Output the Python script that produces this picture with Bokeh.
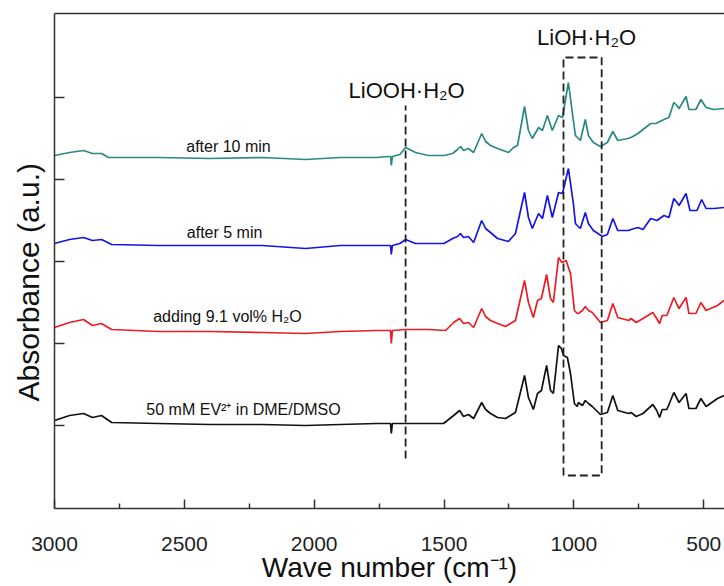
from bokeh.plotting import figure
from bokeh.models import Range1d, FixedTicker, LinearAxis, Title
from bokeh.core.properties import value
from bokeh.embed import file_html
from bokeh.resources import INLINE

# ---------------- data ----------------
wn_teal = [3000, 2942, 2888, 2854, 2819, 2792, 2600, 2400, 2200, 2033, 1900, 1760, 1714, 1706, 1703, 1699,
           1670, 1648, 1610, 1560, 1500, 1467, 1448, 1436, 1425, 1406, 1386, 1355, 1340, 1321, 1294, 1252,
           1232, 1217, 1190, 1175, 1160, 1136, 1121, 1102, 1083, 1059, 1044, 1021, 1002, 994, 975, 956, 944,
           925, 898, 871, 850, 831, 792, 780, 753, 734, 704, 684, 653, 634, 615, 603, 595, 568, 557, 530, 511,
           491, 460, 422]
ab_teal = [352, 355, 357, 354, 354, 350, 350, 349, 350, 348, 350, 350, 351, 351, 342, 351,
           353, 360, 355, 352, 352, 354, 358, 361, 357, 359, 355, 374, 366, 362, 359, 355,
           360, 362, 401, 377, 369, 380, 377, 392, 377, 392, 390, 425, 387, 372, 367, 388, 372,
           365, 361, 365, 376, 367, 369, 370, 374, 378, 384, 384, 388, 390, 405, 402, 399, 411, 398, 398, 408,
           400, 398, 399]

wn_blue = [3000, 2942, 2888, 2854, 2819, 2780, 2600, 2400, 2200, 2033, 1900, 1760, 1714, 1706, 1703, 1699,
           1670, 1648, 1610, 1560, 1500, 1467, 1448, 1437, 1425, 1406, 1386, 1355, 1340, 1321, 1294, 1252,
           1225, 1190, 1175, 1160, 1136, 1121, 1102, 1083, 1059, 1044, 1021, 1002, 994, 987, 975, 956, 944,
           925, 890, 871, 850, 831, 789, 780, 753, 734, 704, 680, 653, 634, 615, 603, 595, 568, 553, 526, 508,
           491, 460, 422]
ab_blue = [264, 268, 270, 267, 268, 263, 262, 262, 262, 259, 262, 262, 262, 262, 253, 262,
           264, 268, 264, 264, 264, 269, 271, 274, 270, 271, 265, 287, 279, 275, 269, 266,
           274, 315, 290, 279, 294, 289, 312, 290, 315, 314, 339, 304, 284, 282, 279, 295, 284,
           277, 271, 273, 289, 277, 277, 278, 280, 278, 289, 287, 292, 290, 309, 305, 302, 314, 297, 297, 308,
           299, 299, 300]

wn_red = [3000, 2942, 2888, 2854, 2819, 2780, 2600, 2400, 2200, 2033, 1900, 1760, 1714, 1706, 1703, 1699,
          1648, 1560, 1494, 1463, 1440, 1425, 1406, 1386, 1355, 1340, 1321, 1294, 1263, 1225, 1190, 1175,
          1156, 1140, 1125, 1105, 1090, 1079, 1059, 1046, 1030, 1013, 998, 987, 983, 967, 956, 944, 929,
          898, 871, 850, 831, 789, 780, 760, 734, 696, 681, 670, 660, 642, 615, 603, 595, 568, 557, 530,
          511, 491, 447, 422]
ab_red = [180, 185, 188, 182, 184, 178, 176, 176, 175, 174, 176, 177, 177, 177, 164, 177,
          178, 178, 177, 185, 189, 184, 185, 180, 199, 191, 187, 184, 181, 187, 227, 205,
          190, 207, 209, 233, 209, 205, 250, 245, 247, 234, 197, 194, 194, 197, 201, 197, 195,
          185, 187, 204, 190, 187, 189, 185, 189, 195, 189, 184, 192, 192, 210, 203, 199, 210, 194, 194,
          205, 197, 202, 207]

wn_black = [3000, 2942, 2888, 2854, 2819, 2780, 2600, 2400, 2200, 2033, 1900, 1760, 1714, 1706, 1703, 1699,
            1648, 1560, 1502, 1463, 1440, 1425, 1406, 1386, 1355, 1340, 1321, 1294, 1263, 1225, 1190, 1175,
            1156, 1140, 1125, 1105, 1090, 1079, 1059, 1048, 1040, 1025, 1013, 998, 987, 983, 967, 956, 944,
            929, 898, 871, 850, 831, 789, 780, 760, 734, 696, 681, 670, 660, 642, 615, 603, 595, 568, 557,
            530, 511, 491, 447, 422]
ab_black = [87, 92, 94, 90, 92, 85, 84, 83, 83, 82, 83, 84, 84, 84, 74, 84,
            84, 84, 84, 92, 97, 91, 93, 89, 105, 98, 94, 90, 89, 95, 132, 110,
            98, 114, 117, 142, 117, 114, 162, 159, 152, 150, 134, 104, 101, 105, 102, 107, 104,
            101, 93, 95, 112, 97, 94, 95, 91, 94, 103, 97, 90, 98, 98, 115, 109, 105, 114, 99,
            99, 109, 101, 109, 112]

series_colors = ["#2a8a82", "#1515e0", "#ec1c24", "#111111"]
series_labels = ["after 10 min", "after 5 min", "adding 9.1 vol% H\u2082O", "50 mM EV\u00b2\u207a in DME/DMSO"]
label_wn = [2330, 2345, 2334, 2272]
label_ab = [361, 275, 191, 98]

x_ticks = [3000, 2500, 2000, 1500, 1000, 500]
x_minor = [2750, 2250, 1750, 1250, 750]
y_ticks = [82, 164, 246, 328, 410]

liooh_wn = [1648, 1648]
liooh_ab = [49, 402]
lioh_box_wn = [1040, 1040, 893, 893, 1040]
lioh_box_ab = [32, 450, 450, 32, 32]
peak_labels = ["LiOOH\u00b7H\u2082O", "LiOH\u00b7H\u2082O"]
peak_label_wn = [1644, 951]
peak_label_ab = [417, 470]

x_title = "Wave number (cm\u207b\u00b9)"
y_title = "Absorbance (a.u.)"

FONT = "Liberation Sans"
AX = "#333333"

p = figure(width=724, height=586, output_backend="svg", toolbar_location=None,
           x_range=Range1d(3000, 420), y_range=Range1d(-1, 494),
           x_axis_location=None, y_axis_location=None,
           min_border_left=54, min_border_right=0, min_border_top=13, min_border_bottom=78)
p.outline_line_color = None
p.grid.grid_line_color = None
p.xgrid.visible = False
p.ygrid.visible = False
p.background_fill_color = "white"
p.border_fill_color = "white"

xaxis = LinearAxis(ticker=FixedTicker(ticks=x_ticks, minor_ticks=x_minor))
xaxis.major_tick_in = 9
xaxis.major_tick_out = 0
xaxis.minor_tick_in = 5
xaxis.minor_tick_out = 0
xaxis.major_label_standoff = 28
xaxis.major_label_text_font_size = "21px"
xaxis.major_label_text_font = FONT
xaxis.major_label_text_color = "#222222"
xaxis.axis_label = x_title
xaxis.axis_label_standoff = -2
xaxis.axis_label_text_font = FONT
xaxis.axis_label_text_font_size = "28px"
xaxis.axis_label_text_font_style = "normal"
xaxis.axis_label_text_color = "#111111"
xaxis.axis_line_width = 1.5
xaxis.major_tick_line_width = 1.5
xaxis.minor_tick_line_width = 1.5
xaxis.axis_line_color = AX
xaxis.major_tick_line_color = AX
xaxis.minor_tick_line_color = AX
p.add_layout(xaxis, "below")

yaxis = LinearAxis(ticker=FixedTicker(ticks=y_ticks))
yaxis.major_tick_in = 10
yaxis.major_tick_out = 0
yaxis.minor_tick_line_color = None
yaxis.major_label_overrides = {t: "" for t in y_ticks}
yaxis.major_label_standoff = 0
yaxis.axis_line_width = 1.5
yaxis.major_tick_line_width = 1.5
yaxis.axis_line_color = AX
yaxis.major_tick_line_color = AX
p.add_layout(yaxis, "left")

ytitle = Title(text=y_title, align="left", vertical_align="top", offset=107, standoff=16,
               text_font=FONT, text_font_size="30px", text_font_style="normal", text_color="#111111")
p.add_layout(ytitle, "left")

top = LinearAxis(ticker=FixedTicker(ticks=[]))
top.major_tick_line_color = None
top.minor_tick_line_color = None
top.major_label_standoff = 0
top.axis_line_width = 1.5
top.axis_line_color = AX
p.add_layout(top, "above")

series = [(wn_teal, ab_teal), (wn_blue, ab_blue), (wn_red, ab_red), (wn_black, ab_black)]
for (wn, ab), col in zip(series, series_colors):
    p.line(wn, ab, line_color=col, line_width=1.7)

p.line(liooh_wn, liooh_ab, line_color="#222222", line_width=1.8, line_dash="8 4")
p.line(lioh_box_wn, lioh_box_ab, line_color="#222222", line_width=1.8, line_dash="8 4")

p.text(x=label_wn, y=label_ab, text=series_labels, text_font=value(FONT), text_font_size="16px",
       text_align="center", text_baseline="middle", text_color="#111111")
p.text(x=peak_label_wn, y=peak_label_ab, text=peak_labels, text_font=value(FONT), text_font_size="22px",
       text_align="center", text_baseline="middle", text_color="#111111")

open("out.html", "w").write(file_html(p, INLINE))
